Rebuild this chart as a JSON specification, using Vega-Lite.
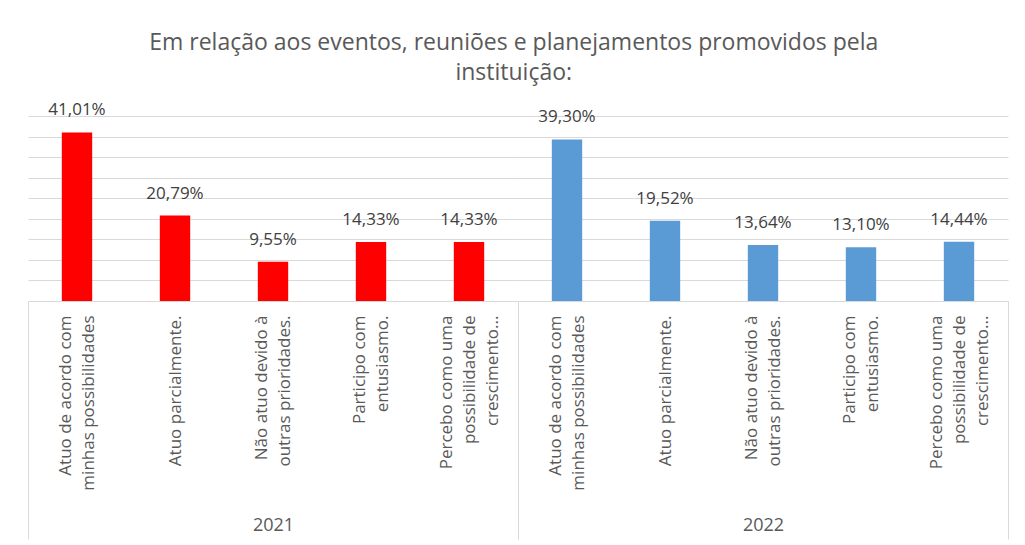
{
  "$schema": "https://vega.github.io/schema/vega-lite/v6.json",
  "autosize": {"type": "pad"},
  "padding": {"left": 19, "top": 32, "right": 16, "bottom": 0},
  "background": "white",
  "title": {
    "text": ["Em relação aos eventos, reuniões e planejamentos promovidos  pela", "instituição:"],
    "font": "Open Sans", "fontSize": 23, "fontWeight": "normal", "color": "#595959",
    "lineHeight": 30, "anchor": "middle", "offset": 16
  },
  "data": {"values": [
    {"ano": "2021", "resposta": "Atuo de acordo com\nminhas possibilidades", "percentual": 0.4101},
    {"ano": "2021", "resposta": "Atuo parcialmente.", "percentual": 0.2079},
    {"ano": "2021", "resposta": "Não atuo devido à\noutras prioridades.", "percentual": 0.0955},
    {"ano": "2021", "resposta": "Participo com\nentusiasmo.", "percentual": 0.1433},
    {"ano": "2021", "resposta": "Percebo como uma\npossibilidade de\ncrescimento...", "percentual": 0.1433},
    {"ano": "2022", "resposta": "Atuo de acordo com\nminhas possibilidades", "percentual": 0.3930},
    {"ano": "2022", "resposta": "Atuo parcialmente.", "percentual": 0.1952},
    {"ano": "2022", "resposta": "Não atuo devido à\noutras prioridades.", "percentual": 0.1364},
    {"ano": "2022", "resposta": "Participo com\nentusiasmo.", "percentual": 0.1310},
    {"ano": "2022", "resposta": "Percebo como uma\npossibilidade de\ncrescimento...", "percentual": 0.1444}
  ]},
  "spacing": 0,
  "bounds": "flush",
  "hconcat": [
    {
      "width": 490, "height": 185,
      "transform": [{"filter": "datum.ano == '2021'"}],
      "encoding": {
        "x": {"field": "resposta", "type": "nominal", "sort": null,
          "scale": {"paddingInner": 0, "paddingOuter": 0},
          "axis": {"title": "2021", "titleY": 229, "titleBaseline": "alphabetic", "titleFont": "Open Sans", "titleFontSize": 18, "titleFontWeight": "normal", "titleColor": "#595959",
            "labelAngle": 270, "labelExpr": "split(datum.label, '\\n')", "labelFont": "Open Sans", "labelFontSize": 17, "labelColor": "#595959", "labelLineHeight": 23, "labelPadding": -224, "labelLimit": 400, "labelOverlap": false, "labelBound": false, "labelFlush": false,
            "labelOffset": {"condition": [{"test": "length(split(datum.label, '\\n')) == 3", "value": -23}, {"test": "length(split(datum.label, '\\n')) == 2", "value": -11.5}], "value": 0},
            "ticks": true, "tickBand": "extent", "tickSize": 238, "tickWidth": 1,
            "tickColor": {"condition": {"test": "datum.index == -1 || datum.index == 1", "value": "#d9d9d9"}, "value": "transparent"},
            "domainColor": "#d9d9d9", "domainWidth": 1}},
        "y": {"field": "percentual", "type": "quantitative", "scale": {"domain": [0, 0.45], "nice": false},
          "axis": {"title": null, "labels": false, "ticks": false, "domain": false, "values": [0.05, 0.1, 0.15, 0.2, 0.25, 0.3, 0.35, 0.4, 0.45], "gridColor": "#d9d9d9", "gridWidth": 1}}
      },
      "layer": [
        {"mark": {"type": "bar", "width": {"band": 0.31}, "color": "#FF0000"}},
        {"mark": {"type": "text", "baseline": "bottom", "dy": -13, "font": "Open Sans", "fontSize": 17, "color": "#404040"},
          "encoding": {"text": {"field": "percentual", "type": "quantitative", "format": ".2%"}}}
      ]
    },
    {
      "width": 490, "height": 185,
      "transform": [{"filter": "datum.ano == '2022'"}],
      "encoding": {
        "x": {"field": "resposta", "type": "nominal", "sort": null,
          "scale": {"paddingInner": 0, "paddingOuter": 0},
          "axis": {"title": "2022", "titleY": 229, "titleBaseline": "alphabetic", "titleFont": "Open Sans", "titleFontSize": 18, "titleFontWeight": "normal", "titleColor": "#595959",
            "labelAngle": 270, "labelExpr": "split(datum.label, '\\n')", "labelFont": "Open Sans", "labelFontSize": 17, "labelColor": "#595959", "labelLineHeight": 23, "labelPadding": -224, "labelLimit": 400, "labelOverlap": false, "labelBound": false, "labelFlush": false,
            "labelOffset": {"condition": [{"test": "length(split(datum.label, '\\n')) == 3", "value": -23}, {"test": "length(split(datum.label, '\\n')) == 2", "value": -11.5}], "value": 0},
            "ticks": true, "tickBand": "extent", "tickSize": 238, "tickWidth": 1,
            "tickColor": {"condition": {"test": "datum.index == -1 || datum.index == 1", "value": "#d9d9d9"}, "value": "transparent"},
            "domainColor": "#d9d9d9", "domainWidth": 1}},
        "y": {"field": "percentual", "type": "quantitative", "scale": {"domain": [0, 0.45], "nice": false},
          "axis": {"title": null, "labels": false, "ticks": false, "domain": false, "values": [0.05, 0.1, 0.15, 0.2, 0.25, 0.3, 0.35, 0.4, 0.45], "gridColor": "#d9d9d9", "gridWidth": 1}}
      },
      "layer": [
        {"mark": {"type": "bar", "width": {"band": 0.31}, "color": "#5B9BD5"}},
        {"mark": {"type": "text", "baseline": "bottom", "dy": -13, "font": "Open Sans", "fontSize": 17, "color": "#404040"},
          "encoding": {"text": {"field": "percentual", "type": "quantitative", "format": ".2%"}}}
      ]
    }
  ],
  "config": {
    "locale": {"number": {"decimal": ",", "thousands": ".", "grouping": [3], "currency": ["R$", ""]}},
    "view": {"stroke": null},
    "font": "Open Sans"
  }
}
